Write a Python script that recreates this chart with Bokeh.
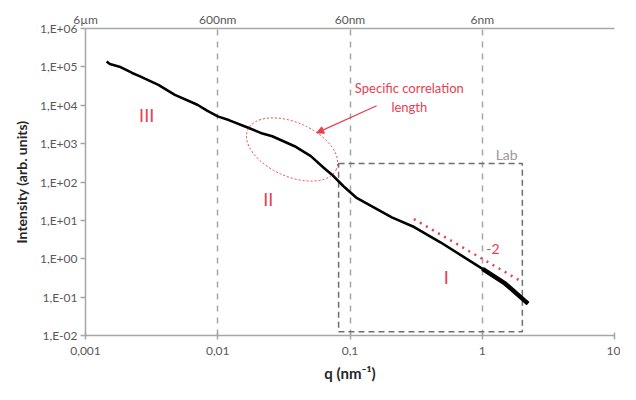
from bokeh.plotting import figure
from bokeh.models import FixedTicker, LogAxis, Arrow, NormalHead
from bokeh.core.properties import value
from bokeh.embed import file_html
from bokeh.resources import INLINE

# ---- data ----
q = [0.001444, 0.001528, 0.001808, 0.002254, 0.002536, 0.003557, 0.004742,
     0.007015, 0.0083, 0.01, 0.01225, 0.01718, 0.02178, 0.02582, 0.03811,
     0.05055, 0.06324, 0.07497, 0.08886, 0.1113, 0.2071, 0.3055, 0.4826,
     1.005, 1.493, 2.218]
intensity = [138000, 118900, 101200, 69500, 58100, 33960, 18700,
             10300, 7210, 5130, 4040, 2565, 1827, 1555, 857,
             472, 236, 143, 78.7, 39.4, 11.97, 6.70, 2.69,
             0.547, 0.224, 0.0679]

x_ticks = [0.001, 0.01, 0.1, 1, 10]
x_tick_labels = ["0,001", "0,01", "0,1", "1", "10"]
top_tick_labels = ["6µm", "600nm", "60nm", "6nm", ""]
y_ticks = [0.01, 0.1, 1, 10, 100, 1000, 10000, 100000, 1000000]
y_tick_labels = ["1,E-02", "1,E-01", "1,E+00", "1,E+01", "1,E+02",
                 "1,E+03", "1,E+04", "1,E+05", "1,E+06"]

# slope -2 guide
slope_q = [0.304, 1.96]
slope_i = [10.8, 0.26]

# "Lab" window
lab_left, lab_right, lab_bottom, lab_top = 0.082, 2.01, 0.0125, 305

# annotations
region_labels = ["III", "II", "I"]
region_q = [0.0029, 0.0241, 0.535]
region_i = [5680, 35.6, 0.34]

RED = "#e8404f"
GRAY_AXIS = "#a6a6a6"
TXT = "#595959"
FONT = "Lato"

p = figure(width=620, height=384, x_axis_type="log", y_axis_type="log",
           x_range=(0.001, 10), y_range=(0.01, 1e6),
           output_backend="svg", toolbar_location=None,
           min_border_left=85, min_border_right=6, min_border_top=28,
           min_border_bottom=47)
p.outline_line_color = None
p.background_fill_color = "white"

# bottom axis
xa = p.xaxis[0]
xa.ticker = FixedTicker(ticks=x_ticks)
xa.major_label_overrides = dict(zip(x_ticks, x_tick_labels))
xa.axis_label = "q (nm⁻¹)"
ya = p.yaxis[0]
ya.ticker = FixedTicker(ticks=y_ticks)
ya.major_label_overrides = dict(zip(y_ticks, y_tick_labels))
ya.axis_label = "Intensity (arb. units)"

for ax in (xa, ya):
    ax.axis_line_color = GRAY_AXIS
    ax.axis_line_width = 1.5
    ax.major_tick_line_color = GRAY_AXIS
    ax.major_tick_line_width = 1.5
    ax.minor_tick_out = 0
    ax.minor_tick_in = 0
    ax.major_label_text_font = FONT
    ax.major_label_text_font_size = "12px"
    ax.major_label_text_color = TXT
    ax.axis_label_text_font = FONT
    ax.axis_label_text_font_style = "bold"
    ax.axis_label_text_color = "#262626"

xa.major_tick_in = 3
xa.major_tick_out = 4
xa.major_label_standoff = 7
xa.axis_label_standoff = 6
xa.axis_label_text_font_size = "15px"
ya.major_tick_in = 0
ya.major_tick_out = 5
ya.major_label_standoff = 3
ya.axis_label_standoff = 7
ya.axis_label_text_font_size = "14px"

# top axis with length scale
top = LogAxis(ticker=FixedTicker(ticks=x_ticks),
              major_label_overrides=dict(zip(x_ticks, top_tick_labels)))
top.axis_line_color = GRAY_AXIS
top.axis_line_width = 1.5
top.major_tick_in = 0
top.major_tick_out = 0
top.minor_tick_in = 0
top.minor_tick_out = 0
top.major_label_standoff = 2
top.major_label_text_font = FONT
top.major_label_text_font_size = "12px"
top.major_label_text_color = TXT
p.add_layout(top, "above")

# grid: vertical dashed only
p.xgrid.ticker = FixedTicker(ticks=x_ticks)
p.xgrid.grid_line_color = "#a6a6a6"
p.xgrid.grid_line_dash = "6 6"
p.xgrid.grid_line_width = 1.5
p.ygrid.visible = False

# Lab window
p.quad(left=[lab_left], right=[lab_right], bottom=[lab_bottom], top=[lab_top],
       fill_color=None, line_color="#6e6e6e", line_dash="6 4", line_width=1.5)
p.text(x=[1.53], y=[523], text=["Lab"], text_font=value(FONT),
       text_font_size="14px", text_color="#9a9a9a",
       text_align="center", text_baseline="middle")

# main curve (noisy high-q tail drawn thicker)
p.line(q, intensity, line_color="black", line_width=2.6)
p.line(q[-3:], intensity[-3:], line_color="black", line_width=4.5)

# slope -2
p.line(slope_q, slope_i, line_color=RED, line_width=2.5, line_dash="2 5")
p.text(x=[1.205], y=[1.81], text=["-2"], text_font=value(FONT),
       text_font_size="14px", text_color=RED,
       text_align="center", text_baseline="middle")

# region labels
p.text(x=region_q, y=region_i, text=region_labels, text_font=value(FONT),
       text_font_size="18px", text_color=RED,
       text_align="center", text_baseline="middle")

# correlation length ellipse + arrow + text
p.ellipse(x=[0.0365], y=[703], width=97, height=54,
          width_units="screen", height_units="screen", angle=-0.42,
          fill_color=None, line_color=RED, line_dash="2 2", line_width=1)
p.add_layout(Arrow(end=NormalHead(size=7, fill_color=RED, line_color=RED),
                   x_start=0.159, y_start=9700, x_end=0.056, y_end=1905,
                   line_color=RED, line_width=1.3))
p.text(x=[0.281, 0.281], y=[28400, 9140],
       text=["Specific correlation", "length"], text_font=value(FONT),
       text_font_size="13px", text_color=RED,
       text_align="center", text_baseline="middle")

open("out.html", "w").write(file_html(p, INLINE))
